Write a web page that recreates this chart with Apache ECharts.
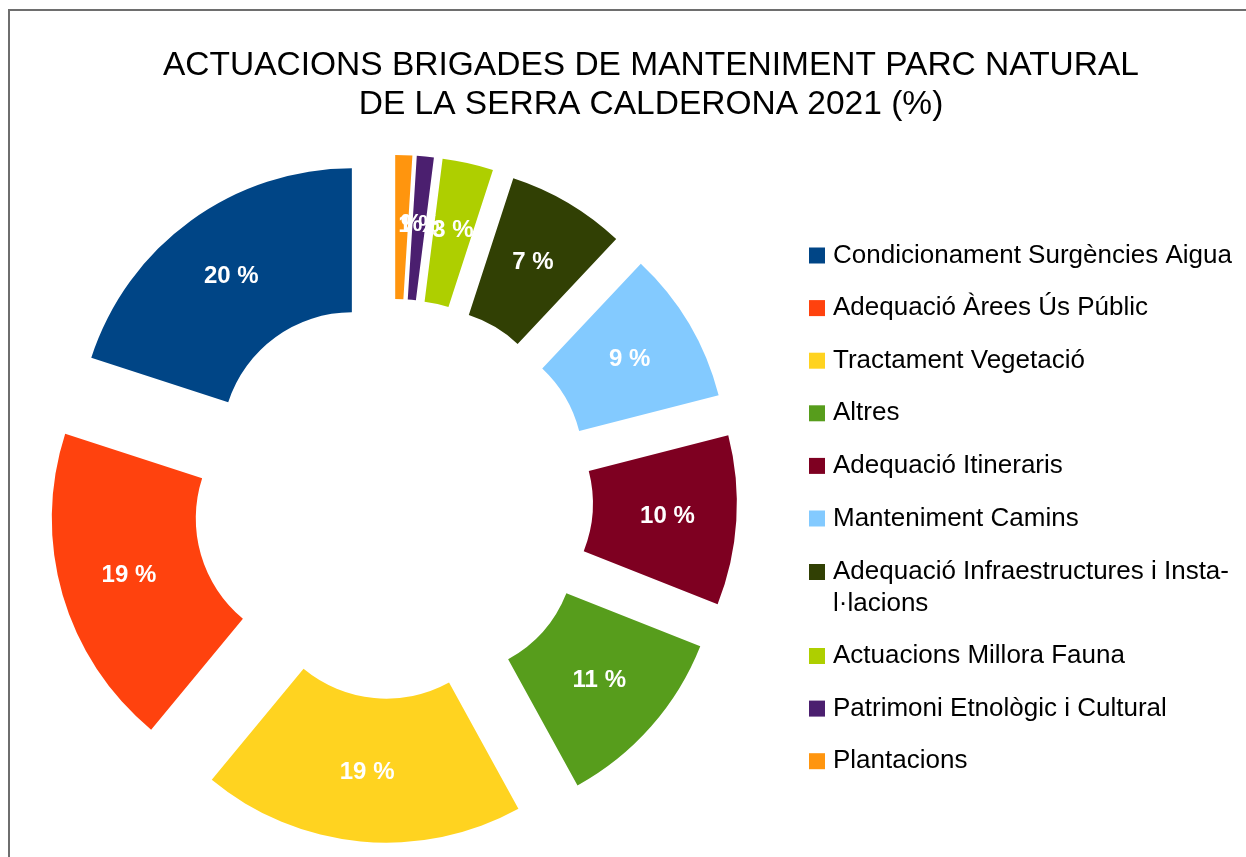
<!DOCTYPE html>
<html>
<head>
<meta charset="utf-8">
<script src="https://cdn.jsdelivr.net/npm/echarts@6/dist/echarts.min.js"></script>
<style>
    html, body { margin: 0; padding: 0; background: #fff; }
    #frame {
        position: absolute; left: 8px; top: 9px; width: 1260px; height: 900px;
        border-left: 2px solid #6e6e6e; border-top: 2px solid #6e6e6e;
    }
    #chart { position: absolute; left: 0; top: 0; width: 1246px; height: 857px; }
</style>
</head>
<body>
<div id="frame"></div>
<div id="chart"></div>
<script>
    const categories = [
        'Condicionament Surgències Aigua',
        'Adequació Àrees Ús Públic',
        'Tractament Vegetació',
        'Altres',
        'Adequació Itineraris',
        'Manteniment Camins',
        'Adequació Infraestructures i Instal·lacions',
        'Actuacions Millora Fauna',
        'Patrimoni Etnològic i Cultural',
        'Plantacions'
    ];
    const values = [20, 19, 19, 11, 10, 9, 7, 3, 1, 1];
    const colors = ['#004586', '#ff420e', '#ffd320', '#579d1c', '#7e0021',
                    '#83caff', '#314004', '#aecf00', '#4b1f6f', '#ff950e'];

    const font = 'Liberation Sans';
    const legendText = {
        color: '#000',
        fontSize: 26,
        fontFamily: font,
        lineHeight: 31,
        padding: [0, 0, 0, 3]
    };
    const legendBase = {
        orient: 'vertical',
        left: 809,
        padding: 0,
        itemWidth: 16,
        itemHeight: 16,
        itemGap: 21.6,
        icon: 'rect',
        selectedMode: false,
        textStyle: legendText
    };

    const chart = echarts.init(document.getElementById('chart'));
    chart.setOption({
        animation: false,
        title: {
            text: 'ACTUACIONS BRIGADES DE MANTENIMENT PARC NATURAL\nDE LA SERRA CALDERONA 2021 (%)',
            left: 651,
            top: 47,
            padding: 0,
            textAlign: 'center',
            textStyle: {
                color: '#000',
                fontSize: 33.5,
                fontWeight: 'normal',
                fontFamily: font,
                lineHeight: 38.5
            }
        },
        legend: [
            Object.assign({}, legendBase, { top: 240, data: categories.slice(0, 6) }),
            // long name: first line in the legend, second line as text below
            Object.assign({}, legendBase, {
                top: 556.5,
                data: categories.slice(6, 7),
                formatter: () => 'Adequació Infraestructures i Insta-'
            }),
            Object.assign({}, legendBase, { top: 640.5, data: categories.slice(7) })
        ],
        graphic: [
            {
                type: 'text',
                left: 833,
                top: 588,
                style: {
                    text: 'l·lacions',
                    fill: '#000',
                    font: '26px "Liberation Sans"',
                    lineHeight: 31
                }
            }
        ],
        series: [
            {
                type: 'pie',
                center: [393, 499],
                radius: [130, 274],
                startAngle: 90,
                clockwise: false,
                selectedMode: 'multiple',
                selectedOffset: 70,
                avoidLabelOverlap: false,
                minShowLabelAngle: 0,
                labelLayout: { hideOverlap: false },
                emphasis: { disabled: true },
                itemStyle: { borderWidth: 0 },
                label: {
                    show: true,
                    position: 'inside',
                    overflow: 'none',
                    formatter: '{c} %',
                    color: '#fff',
                    fontSize: 24,
                    fontWeight: 'bold',
                    fontFamily: font
                },
                labelLine: { show: false },
                data: categories.map((name, i) => ({
                    name: name,
                    value: values[i],
                    selected: true,
                    itemStyle: { color: colors[i] }
                }))
            }
        ]
    });
</script>
</body>
</html>
